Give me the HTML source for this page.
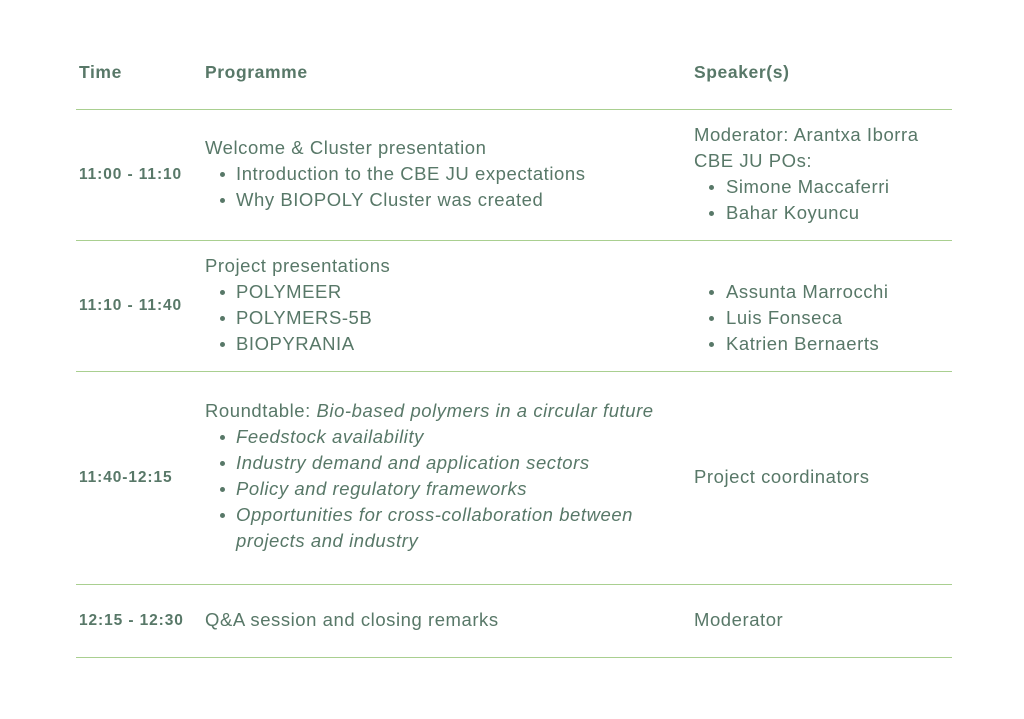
<!DOCTYPE html>
<html><head><meta charset="utf-8"><style>
body{margin:0;width:1024px;height:719px;background:#fff;position:relative;overflow:hidden;font-family:"Liberation Sans",sans-serif;color:#587868}
.t{position:absolute;white-space:nowrap;font-size:18.5px;line-height:22px;letter-spacing:0.55px}
.tm{font-size:15.5px;font-weight:bold;letter-spacing:0.9px}
.h{font-size:17.5px;font-weight:bold;letter-spacing:0.6px}
.i{font-style:italic}
.hr{position:absolute;left:76px;width:876px;height:1px;background:#a9cf90}
.bu{position:absolute;width:5px;height:5px;border-radius:50%;background:#587868}
</style></head><body>
<div class="t h" style="left:79px;top:61px">Time</div>
<div class="t h" style="left:205px;top:61px">Programme</div>
<div class="t h" style="left:694px;top:61px">Speaker(s)</div>
<div class="hr" style="top:109px"></div>

<div class="t tm" style="left:79px;top:164px">11:00 - 11:10</div>
<div class="t" style="left:205px;top:137px">Welcome &amp; Cluster presentation</div>
<div class="bu" style="left:220px;top:172px"></div><div class="t" style="left:236px;top:163px">Introduction to the CBE JU expectations</div>
<div class="bu" style="left:220px;top:198px"></div><div class="t" style="left:236px;top:189px">Why BIOPOLY Cluster was created</div>
<div class="t" style="left:694px;top:124px">Moderator: Arantxa Iborra</div>
<div class="t" style="left:694px;top:150px">CBE JU POs:</div>
<div class="bu" style="left:709px;top:185px"></div><div class="t" style="left:726px;top:176px">Simone Maccaferri</div>
<div class="bu" style="left:709px;top:211px"></div><div class="t" style="left:726px;top:202px">Bahar Koyuncu</div>
<div class="hr" style="top:240px"></div>

<div class="t tm" style="left:79px;top:295px">11:10 - 11:40</div>
<div class="t" style="left:205px;top:255px">Project presentations</div>
<div class="bu" style="left:220px;top:290px"></div><div class="t" style="left:236px;top:281px">POLYMEER</div>
<div class="bu" style="left:220px;top:316px"></div><div class="t" style="left:236px;top:307px">POLYMERS-5B</div>
<div class="bu" style="left:220px;top:342px"></div><div class="t" style="left:236px;top:333px">BIOPYRANIA</div>
<div class="bu" style="left:709px;top:290px"></div><div class="t" style="left:726px;top:281px">Assunta Marrocchi</div>
<div class="bu" style="left:709px;top:316px"></div><div class="t" style="left:726px;top:307px">Luis Fonseca</div>
<div class="bu" style="left:709px;top:342px"></div><div class="t" style="left:726px;top:333px">Katrien Bernaerts</div>
<div class="hr" style="top:371px"></div>

<div class="t tm" style="left:79px;top:467px">11:40-12:15</div>
<div class="t" style="left:205px;top:400px">Roundtable: <span class="i">Bio-based polymers in a circular future</span></div>
<div class="bu" style="left:220px;top:435px"></div><div class="t i" style="left:236px;top:426px">Feedstock availability</div>
<div class="bu" style="left:220px;top:461px"></div><div class="t i" style="left:236px;top:452px">Industry demand and application sectors</div>
<div class="bu" style="left:220px;top:487px"></div><div class="t i" style="left:236px;top:478px">Policy and regulatory frameworks</div>
<div class="bu" style="left:220px;top:513px"></div><div class="t i" style="left:236px;top:504px">Opportunities for cross-collaboration between</div>
<div class="t i" style="left:236px;top:530px">projects and industry</div>
<div class="t" style="left:694px;top:466px">Project coordinators</div>
<div class="hr" style="top:584px"></div>

<div class="t tm" style="left:79px;top:610px">12:15 - 12:30</div>
<div class="t" style="left:205px;top:609px">Q&amp;A session and closing remarks</div>
<div class="t" style="left:694px;top:609px">Moderator</div>
<div class="hr" style="top:657px"></div>
</body></html>
